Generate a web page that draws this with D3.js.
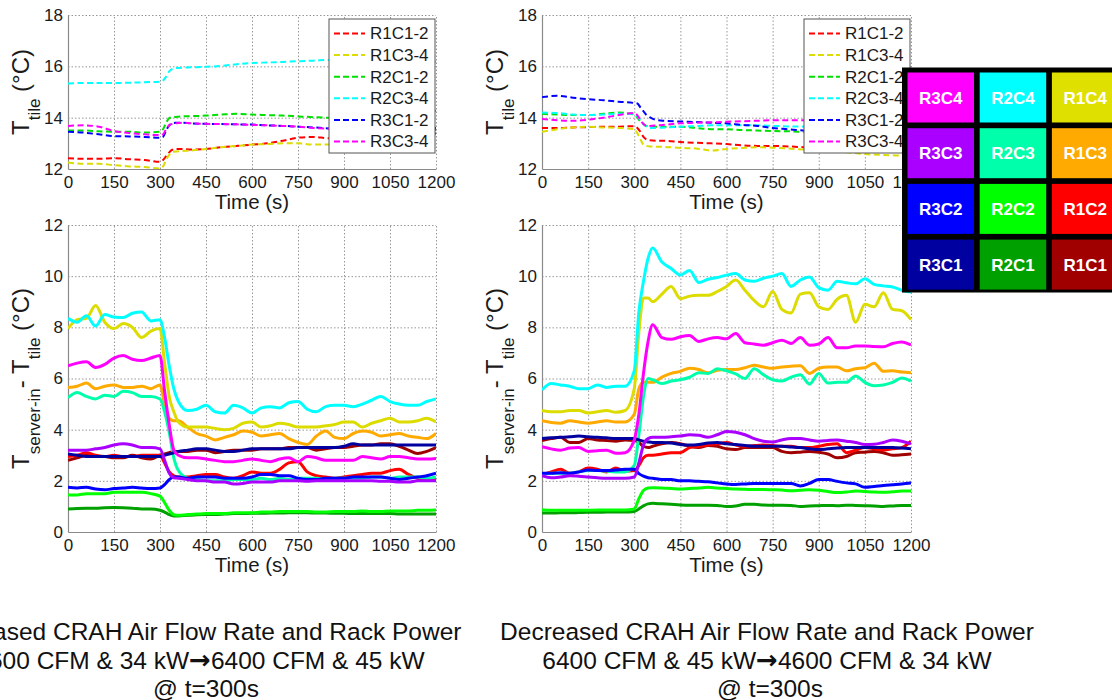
<!DOCTYPE html>
<html>
<head>
<meta charset="utf-8">
<script src="https://cdn.jsdelivr.net/npm/d3@7"></script>
<style>
  html, body { margin: 0; padding: 0; background: #fff; }
  svg { display: block; font-family: "Liberation Sans", Arial, sans-serif; }
</style>
</head>
<body>
<svg id="chart" width="1112" height="700"></svg>
<script>
// ---------------- DATA ----------------
const xTicks = [0, 150, 300, 450, 600, 750, 900, 1050, 1200];
const yTicksTile = [12, 14, 16, 18];
const yTicksDelta = [0, 2, 4, 6, 8, 10, 12];

const tileSeries = ["R1C1-2", "R1C3-4", "R2C1-2", "R2C3-4", "R3C1-2", "R3C3-4"];
const rackSeries = ["R1C1", "R1C2", "R1C3", "R1C4", "R2C1", "R2C2", "R2C3", "R2C4", "R3C1", "R3C2", "R3C3", "R3C4"];
const gridRows = [["R3C4", "R2C4", "R1C4"], ["R3C3", "R2C3", "R1C3"], ["R3C2", "R2C2", "R1C2"], ["R3C1", "R2C1", "R1C1"]];

// caption lines: [before arrow, after arrow] for line 2
const captionLeft = ["Increased CRAH Air Flow Rate and Rack Power", ["4600 CFM & 34 kW", "6400 CFM & 45 kW"], "@ t=300s"];
const captionRight = ["Decreased CRAH Air Flow Rate and Rack Power", ["6400 CFM & 45 kW", "4600 CFM & 34 kW"], "@ t=300s"];

// time samples (s)
const tTile = [0,50,100,150,200,250,300,310,320,330,340,350,375,400,450,500,550,600,650,700,750,800,850,900,950,1000,1050,1100,1150,1200];
const tRack = [0,30,60,90,120,150,180,210,240,270,300,315,330,345,360,390,420,450,480,510,540,570,600,630,660,690,720,750,780,810,840,870,900,930,960,990,1020,1050,1080,1110,1140,1170,1200];

// ---- Increased case: tile temperatures (°C) ----
const incTile_R1C1_2 = [12.42,12.4,12.4,12.42,12.38,12.35,12.28,12.35,12.5,12.65,12.75,12.78,12.78,12.76,12.78,12.85,12.9,12.95,13.0,13.1,13.22,13.25,13.2,13.2,13.25,13.3,13.3,13.32,13.35,13.38];
const incTile_R1C3_4 = [12.25,12.2,12.2,12.15,12.1,12.08,12.02,12.1,12.35,12.55,12.65,12.68,12.7,12.72,12.78,12.85,12.9,12.95,12.97,13.0,13.0,12.95,12.95,12.98,13.0,13.0,13.02,13.03,13.05,13.07];
const incTile_R2C1_2 = [13.5,13.5,13.47,13.45,13.45,13.42,13.45,13.55,13.8,13.98,14.02,14.03,14.05,14.06,14.08,14.12,14.15,14.12,14.1,14.08,14.05,14.02,14.0,14.02,14.05,14.08,14.1,14.15,14.2,14.27];
const incTile_R2C3_4 = [15.33,15.35,15.35,15.35,15.36,15.38,15.4,15.45,15.6,15.8,15.9,15.93,15.95,15.96,15.98,16.02,16.08,16.13,16.15,16.17,16.2,16.22,16.25,16.25,16.25,16.24,16.22,16.2,16.2,16.18];
const incTile_R3C1_2 = [13.45,13.42,13.35,13.28,13.27,13.25,13.22,13.25,13.5,13.7,13.78,13.8,13.8,13.78,13.76,13.75,13.74,13.73,13.7,13.68,13.65,13.62,13.58,13.57,13.57,13.57,13.58,13.58,13.6,13.6];
const incTile_R3C3_4 = [13.68,13.7,13.65,13.48,13.4,13.35,13.32,13.35,13.55,13.7,13.76,13.78,13.8,13.78,13.76,13.75,13.74,13.72,13.7,13.68,13.65,13.6,13.57,13.55,13.55,13.54,13.53,13.52,13.52,13.52];

// ---- Decreased case: tile temperatures (°C) ----
const decTile_R1C1_2 = [13.6,13.6,13.62,13.63,13.65,13.65,13.67,13.6,13.45,13.25,13.15,13.12,13.1,13.1,13.05,13.02,13.0,12.97,12.92,12.9,12.9,12.88,12.85,12.82,12.8,12.78,12.75,12.72,12.7,12.68];
const decTile_R1C3_4 = [13.45,13.55,13.62,13.65,13.62,13.6,13.55,13.4,13.15,12.95,12.9,12.88,12.87,12.86,12.82,12.8,12.72,12.78,12.82,12.85,12.83,12.8,12.76,12.72,12.68,12.64,12.58,12.55,12.53,12.5];
const decTile_R2C1_2 = [14.15,14.12,14.1,14.1,14.15,14.2,14.12,14.0,13.85,13.75,13.68,13.65,13.65,13.65,13.65,13.6,13.55,13.55,13.52,13.5,13.48,13.47,13.45,13.45,13.44,13.42,13.4,13.38,13.37,13.35];
const decTile_R2C3_4 = [14.2,14.18,14.12,14.1,14.12,14.15,14.15,14.05,13.9,13.75,13.65,13.6,13.6,13.62,13.65,13.67,13.7,13.7,13.7,13.7,13.68,13.66,13.65,13.62,13.6,13.58,13.55,13.53,13.5,13.5];
const decTile_R3C1_2 = [14.8,14.85,14.78,14.72,14.68,14.62,14.57,14.55,14.4,14.25,14.1,14.02,13.9,13.88,13.85,13.83,13.8,13.78,13.72,13.68,13.6,13.55,13.5,13.48,13.45,13.42,13.4,13.38,13.35,13.33];
const decTile_R3C3_4 = [13.95,13.9,13.88,13.92,14.0,14.1,14.18,14.1,13.9,13.75,13.68,13.68,13.7,13.72,13.78,13.8,13.82,13.84,13.86,13.88,13.9,13.9,13.9,13.9,13.9,13.9,13.9,13.9,13.9,13.9];

// ---- Increased case: server inlet minus tile (°C) ----
const incR1C1 = [2.8,2.9,3.0,2.95,2.95,2.9,2.9,3.0,2.9,2.85,3.0,3.05,3.1,3.15,3.15,3.15,3.2,3.2,3.1,3.15,3.2,3.2,3.2,3.25,3.25,3.25,3.3,3.3,3.3,3.2,3.25,3.3,3.3,3.35,3.4,3.4,3.45,3.45,3.35,3.2,3.07,3.15,3.3];
const incR1C2 = [2.95,3.0,3.1,3.0,2.95,3.0,2.95,2.95,3.0,3.0,3.0,2.7,2.35,2.2,2.15,2.15,2.2,2.25,2.25,2.15,2.1,2.2,2.35,2.3,2.3,2.45,2.7,2.75,2.35,2.2,2.15,2.1,2.15,2.2,2.25,2.3,2.3,2.4,2.45,2.25,2.1,2.05,2.1];
const incR1C3 = [5.65,5.7,5.82,5.6,5.7,5.75,5.65,5.65,5.7,5.6,5.75,5.0,4.45,4.35,4.35,4.1,3.85,3.75,3.6,3.7,3.8,3.95,3.9,3.75,3.8,3.85,3.65,3.5,3.42,3.75,3.95,3.7,3.65,3.85,3.95,3.9,3.75,3.8,3.85,3.75,3.7,3.65,3.85];
const incR1C4 = [7.95,8.3,8.35,8.85,8.2,7.95,8.15,8.0,7.6,7.85,7.95,6.6,5.3,4.7,4.3,4.1,4.1,4.1,4.05,4.0,4.05,4.25,4.3,4.1,4.15,4.25,4.2,4.1,4.1,4.1,4.15,4.2,4.3,4.3,4.1,4.25,4.35,4.45,4.3,4.3,4.35,4.45,4.3];
const incR2C1 = [0.9,0.92,0.93,0.93,0.95,0.96,0.95,0.93,0.9,0.9,0.85,0.78,0.68,0.63,0.63,0.65,0.67,0.68,0.68,0.7,0.72,0.72,0.73,0.73,0.74,0.74,0.75,0.75,0.75,0.74,0.74,0.73,0.73,0.72,0.72,0.72,0.72,0.72,0.7,0.7,0.7,0.7,0.7];
const incR2C2 = [1.45,1.45,1.5,1.5,1.5,1.55,1.55,1.55,1.55,1.5,1.4,1.15,0.85,0.68,0.65,0.68,0.7,0.72,0.72,0.72,0.75,0.75,0.75,0.78,0.78,0.8,0.8,0.8,0.8,0.78,0.78,0.8,0.8,0.8,0.82,0.8,0.8,0.82,0.82,0.82,0.85,0.85,0.86];
const incR2C3 = [5.25,5.45,5.3,5.2,5.35,5.3,5.5,5.45,5.3,5.3,5.2,4.7,3.9,2.9,2.4,2.1,2.05,2.0,2.0,2.0,2.05,2.05,2.05,2.1,2.05,2.1,2.05,2.1,2.1,2.1,2.05,2.1,2.1,2.1,2.1,2.15,2.15,2.1,2.15,2.15,2.15,2.1,2.15];
const incR2C4 = [8.35,8.2,8.45,8.05,8.5,8.4,8.38,8.55,8.6,8.25,8.3,7.6,6.5,5.6,5.1,4.75,4.8,4.95,4.7,4.65,4.95,4.85,4.65,4.85,4.9,4.85,5.05,5.1,4.8,4.7,4.9,4.95,4.95,4.9,5.0,5.15,5.3,5.1,5.0,4.95,4.95,5.1,5.2];
const incR3C1 = [3.05,3.0,2.95,2.95,2.95,2.95,2.95,2.95,2.95,2.95,2.95,3.0,3.05,3.1,3.15,3.2,3.25,3.25,3.2,3.15,3.15,3.2,3.25,3.25,3.25,3.25,3.25,3.3,3.3,3.3,3.3,3.3,3.35,3.45,3.4,3.4,3.4,3.4,3.4,3.4,3.4,3.4,3.4];
const incR3C2 = [1.75,1.72,1.75,1.68,1.65,1.7,1.72,1.75,1.72,1.7,1.72,1.85,2.05,2.15,2.15,2.1,2.15,2.15,2.15,2.1,2.1,2.1,2.15,2.25,2.25,2.2,2.2,2.1,2.05,2.05,2.1,2.1,2.1,2.15,2.15,2.15,2.15,2.1,2.05,2.1,2.15,2.2,2.3];
const incR3C3 = [3.2,3.2,3.2,3.25,3.3,3.4,3.45,3.4,3.3,3.3,3.25,2.8,2.3,2.12,2.1,2.05,2.0,2.0,1.95,1.95,1.88,1.9,1.95,1.95,1.95,2.0,2.0,2.0,1.98,2.0,2.0,2.0,2.0,2.0,2.0,2.0,1.98,1.98,1.95,1.95,2.0,2.0,2.0];
const incR3C4 = [6.5,6.6,6.65,6.43,6.55,6.8,6.9,6.75,6.7,6.8,6.9,5.5,4.2,3.2,3.0,2.9,2.9,2.85,2.8,2.75,2.75,2.8,2.85,2.8,2.75,2.85,2.9,2.75,2.95,2.9,2.8,2.8,2.8,2.8,2.95,2.9,2.85,2.95,2.95,2.9,2.85,2.85,2.87];

// ---- Decreased case: server inlet minus tile (°C) ----
const decR1C1 = [3.58,3.65,3.7,3.5,3.5,3.65,3.6,3.58,3.55,3.6,3.58,3.5,3.35,3.3,3.35,3.45,3.5,3.45,3.35,3.3,3.38,3.35,3.25,3.22,3.3,3.3,3.3,3.3,3.15,3.1,3.12,3.15,3.12,3.05,2.9,2.95,3.1,3.12,3.15,3.1,3.0,3.02,3.05];
const decR1C2 = [2.25,2.35,2.45,2.3,2.35,2.5,2.45,2.35,2.5,2.38,2.4,2.6,2.9,3.0,3.0,3.05,3.1,3.1,3.3,3.35,3.4,3.45,3.5,3.4,3.35,3.38,3.4,3.38,3.35,3.35,3.3,3.3,3.35,3.42,3.45,3.1,3.2,3.3,3.25,3.2,3.25,3.3,3.55];
const decR1C3 = [4.35,4.28,4.25,4.35,4.3,4.25,4.3,4.35,4.3,4.3,4.6,5.6,5.85,5.85,5.85,6.05,6.2,6.28,6.4,6.35,6.22,6.32,6.35,6.35,6.42,6.52,6.45,6.4,6.45,6.48,6.5,6.2,6.4,6.45,6.45,6.3,6.38,6.42,6.6,6.28,6.3,6.25,6.22];
const decR1C4 = [4.75,4.7,4.7,4.75,4.75,4.65,4.7,4.75,4.68,4.75,5.6,7.8,9.15,9.15,9.0,9.3,9.6,9.12,9.22,9.25,9.25,9.4,9.6,9.85,9.45,9.05,8.8,9.4,8.7,8.56,9.3,9.35,8.8,8.7,9.1,9.25,8.2,8.9,8.8,9.35,8.7,8.65,8.3];
const decR2C1 = [0.74,0.74,0.75,0.75,0.76,0.77,0.77,0.78,0.78,0.78,0.8,0.9,1.02,1.1,1.12,1.1,1.08,1.06,1.05,1.05,1.05,1.04,1.0,1.02,1.08,1.08,1.06,1.05,1.05,1.04,1.0,1.02,1.03,1.04,1.03,1.05,1.04,1.03,1.02,1.0,1.02,1.04,1.04];
const decR2C2 = [0.87,0.85,0.85,0.85,0.85,0.85,0.86,0.86,0.86,0.86,0.9,1.3,1.62,1.72,1.73,1.72,1.7,1.68,1.7,1.72,1.75,1.72,1.7,1.68,1.67,1.66,1.66,1.65,1.64,1.61,1.63,1.65,1.63,1.58,1.54,1.56,1.6,1.58,1.56,1.55,1.57,1.6,1.6];
const decR2C3 = [2.25,2.3,2.3,2.3,2.35,2.4,2.4,2.38,2.35,2.35,2.6,3.8,5.3,6.0,5.95,5.8,5.9,5.95,6.05,6.22,6.2,6.38,6.3,6.18,6.0,6.38,6.15,5.95,5.9,6.05,6.15,5.78,6.2,5.82,5.85,5.85,6.1,5.85,5.72,5.75,5.85,6.02,5.9];
const decR2C4 = [5.55,5.8,5.75,5.7,5.6,5.6,5.75,5.65,5.7,5.7,6.3,8.6,9.8,10.7,11.1,10.55,10.3,10.05,10.22,9.75,9.88,9.95,10.04,10.1,9.85,9.8,9.92,10.0,10.1,9.6,9.85,9.97,9.55,9.45,9.8,9.74,9.7,9.9,9.68,9.62,9.58,9.45,9.38];
const decR3C1 = [3.65,3.68,3.7,3.72,3.75,3.72,3.7,3.68,3.65,3.65,3.65,3.6,3.55,3.52,3.5,3.5,3.48,3.42,3.4,3.42,3.48,3.5,3.45,3.42,3.38,3.35,3.35,3.35,3.35,3.32,3.3,3.25,3.22,3.25,3.28,3.3,3.3,3.3,3.3,3.3,3.3,3.28,3.25];
const decR3C2 = [2.3,2.3,2.32,2.3,2.35,2.42,2.4,2.4,2.42,2.45,2.45,2.28,2.18,2.12,2.1,2.05,2.05,2.0,2.0,1.98,1.96,1.92,1.88,1.86,1.88,1.9,1.9,1.9,1.9,1.9,1.8,1.9,2.05,2.05,1.98,1.92,1.88,1.75,1.78,1.82,1.85,1.88,1.92];
const decR3C3 = [2.2,2.12,2.15,2.2,2.18,2.15,2.12,2.1,2.1,2.1,2.15,2.7,3.4,3.65,3.7,3.7,3.72,3.75,3.8,3.78,3.7,3.8,3.93,3.9,3.8,3.65,3.55,3.52,3.6,3.65,3.65,3.6,3.55,3.58,3.6,3.55,3.5,3.42,3.43,3.5,3.6,3.55,3.45];
const decR3C4 = [3.33,3.25,3.2,3.28,3.3,3.15,3.18,3.2,3.08,3.1,3.6,4.6,6.2,7.45,8.1,7.6,7.53,7.63,7.68,7.45,7.55,7.6,7.55,7.76,7.4,7.35,7.3,7.4,7.5,7.37,7.6,7.3,7.35,7.6,7.2,7.2,7.27,7.27,7.25,7.24,7.37,7.43,7.31];

const incTile = [incTile_R1C1_2, incTile_R1C3_4, incTile_R2C1_2, incTile_R2C3_4, incTile_R3C1_2, incTile_R3C3_4];
const decTile = [decTile_R1C1_2, decTile_R1C3_4, decTile_R2C1_2, decTile_R2C3_4, decTile_R3C1_2, decTile_R3C3_4];
const incRack = [incR1C1, incR1C2, incR1C3, incR1C4, incR2C1, incR2C2, incR2C3, incR2C4, incR3C1, incR3C2, incR3C3, incR3C4];
const decRack = [decR1C1, decR1C2, decR1C3, decR1C4, decR2C1, decR2C2, decR2C3, decR2C4, decR3C1, decR3C2, decR3C3, decR3C4];

// ---------------- STYLE ----------------
const tileColors = ["#ff0000", "#dcdc00", "#00e000", "#00ffff", "#0000ff", "#ff00ff"];
const rackColor = {
  R1C1: "#a00000", R1C2: "#ff0000", R1C3: "#ffaa00", R1C4: "#dcdc00",
  R2C1: "#00a000", R2C2: "#00ff00", R2C3: "#00ffaa", R2C4: "#00ffff",
  R3C1: "#0000a0", R3C2: "#0000ff", R3C3: "#aa00ff", R3C4: "#ff00ff"
};
const cellColor = Object.assign({}, rackColor, { R1C4: "#e0e000" });

const svg = d3.select("#chart");
const FONT = "'Liberation Sans', Arial, sans-serif";

const panels = [
  { id: "tl", x0: 68, x1: 436, y0: 15, y1: 169, kind: "tile", data: incTile, legendX: 329 },
  { id: "tr", x0: 542, x1: 911, y0: 15, y1: 169, kind: "tile", data: decTile, legendX: 804 },
  { id: "bl", x0: 68, x1: 436, y0: 225, y1: 532, kind: "rack", data: incRack },
  { id: "br", x0: 542, x1: 911, y0: 225, y1: 532, kind: "rack", data: decRack }
];

panels.forEach(p => {
  const x = d3.scaleLinear().domain([0, 1200]).range([p.x0, p.x1]);
  const y = p.kind === "tile"
    ? d3.scaleLinear().domain([12, 18]).range([p.y1, p.y0])
    : d3.scaleLinear().domain([0, 12]).range([p.y1, p.y0]);
  const yTicks = p.kind === "tile" ? yTicksTile : yTicksDelta;
  const w = p.x1 - p.x0, h = p.y1 - p.y0;

  const g = svg.append("g");

  const gx = g.append("g").attr("transform", `translate(0,${p.y1})`)
    .call(d3.axisBottom(x).tickValues(xTicks).tickFormat(d3.format("d"))
      .tickSizeInner(-h).tickSizeOuter(0).tickPadding(7));
  const gy = g.append("g").attr("transform", `translate(${p.x0},0)`)
    .call(d3.axisLeft(y).tickValues(yTicks).tickFormat(d3.format("d"))
      .tickSizeInner(-w).tickSizeOuter(0).tickPadding(5));

  [gx, gy].forEach(a => {
    a.select(".domain").attr("stroke", "#8a8a8a").attr("stroke-width", 1.2);
    a.selectAll(".tick line").attr("stroke", "#8c8c8c").attr("stroke-width", 0.9)
      .attr("stroke-dasharray", "1.5,2");
    a.selectAll(".tick text").attr("font-family", FONT).attr("font-size", 17).attr("fill", "#1a1a1a");
  });
  gx.selectAll(".tick").filter(d => d === 0).select("line").remove();
  gy.selectAll(".tick").filter(d => d === yTicks[0]).select("line").remove();

  const clipId = "clip-" + p.id;
  svg.append("clipPath").attr("id", clipId).append("rect")
    .attr("x", p.x0).attr("y", p.y0).attr("width", w).attr("height", h);

  const times = p.kind === "tile" ? tTile : tRack;
  const line = d3.line().x((d, i) => x(times[i])).y(d => y(d)).curve(d3.curveMonotoneX);

  const lg = g.append("g").attr("clip-path", `url(#${clipId})`);
  if (p.kind === "tile") {
    p.data.forEach((s, k) => {
      lg.append("path").attr("d", line(s)).attr("fill", "none")
        .attr("stroke", tileColors[k]).attr("stroke-width", 2)
        .attr("stroke-dasharray", "6,3.5");
    });
    const lx = p.legendX, ly = 19;
    const leg = g.append("g");
    leg.append("rect").attr("x", lx).attr("y", ly).attr("width", 106).attr("height", 134)
      .attr("fill", "#fff").attr("stroke", "#555").attr("stroke-width", 1);
    tileSeries.forEach((name, k) => {
      const yy = 33.5 + k * 21.6;
      leg.append("line").attr("x1", lx + 5).attr("x2", lx + 36).attr("y1", yy).attr("y2", yy)
        .attr("stroke", tileColors[k]).attr("stroke-width", 2).attr("stroke-dasharray", "6,3");
      leg.append("text").attr("x", lx + 41).attr("y", yy).attr("dy", "0.35em")
        .attr("font-family", FONT).attr("font-size", 17).attr("fill", "#1a1a1a").text(name);
    });
  } else {
    p.data.forEach((s, k) => {
      lg.append("path").attr("d", line(s)).attr("fill", "none")
        .attr("stroke", rackColor[rackSeries[k]]).attr("stroke-width", 3)
        .attr("stroke-linejoin", "round");
    });
  }

  g.append("text").attr("x", (p.x0 + p.x1) / 2).attr("y", p.y1 + 40)
    .attr("text-anchor", "middle").attr("font-family", FONT).attr("font-size", 20.5)
    .attr("fill", "#1a1a1a").text("Time (s)");

  const yl = g.append("text")
    .attr("transform", `translate(${p.x0 - 39},${(p.y0 + p.y1) / 2}) rotate(-90)`)
    .attr("text-anchor", "middle").attr("font-family", FONT).attr("font-size", 24).attr("fill", "#1a1a1a");
  yl.append("tspan").text("T");
  if (p.kind === "tile") {
    yl.append("tspan").attr("font-size", 17).attr("dy", 11).text("tile");
    yl.append("tspan").attr("dy", -11).text(" (\u00B0C)");
  } else {
    yl.append("tspan").attr("font-size", 17).attr("dy", 11).text("server-in");
    yl.append("tspan").attr("dy", -11).text("- T");
    yl.append("tspan").attr("font-size", 17).attr("dy", 11).text("tile");
    yl.append("tspan").attr("dy", -11).text(" (\u00B0C)");
  }
});

// ---------------- GRID LEGEND ----------------
const gl = svg.append("g");
gl.append("rect").attr("x", 902).attr("y", 67.5).attr("width", 230).attr("height", 225).attr("fill", "#000");
gridRows.forEach((row, r) => {
  row.forEach((name, c) => {
    const cx = 907.5 + c * 72.2, cy = 72.5 + r * 55.7;
    gl.append("rect").attr("x", cx).attr("y", cy).attr("width", 66.5).attr("height", 50)
      .attr("fill", cellColor[name]);
    gl.append("text").attr("x", cx + 33.25).attr("y", cy + 25).attr("dy", "0.36em")
      .attr("text-anchor", "middle").attr("font-family", FONT).attr("font-weight", "bold")
      .attr("font-size", 17).attr("fill", "#fff").text(name);
  });
});

// ---------------- CAPTIONS ----------------
function caption(lines, cx, cx3) {
  lines.forEach((t, i) => {
    const tx = svg.append("text").attr("x", i === 2 ? cx3 : cx).attr("y", 640 + i * 28.5)
      .attr("text-anchor", "middle").attr("font-family", FONT).attr("font-size", 24.5)
      .attr("fill", "#111");
    if (Array.isArray(t)) {
      tx.append("tspan").text(t[0]);
      tx.append("tspan").attr("font-family", "'DejaVu Sans', sans-serif").attr("font-weight", "bold")
        .attr("font-size", 26).text("\u2192");
      tx.append("tspan").text(t[1]);
    } else {
      tx.text(t);
    }
  });
}
caption(captionLeft, 200, 206);
caption(captionRight, 767, 770);
</script>
</body>
</html>
